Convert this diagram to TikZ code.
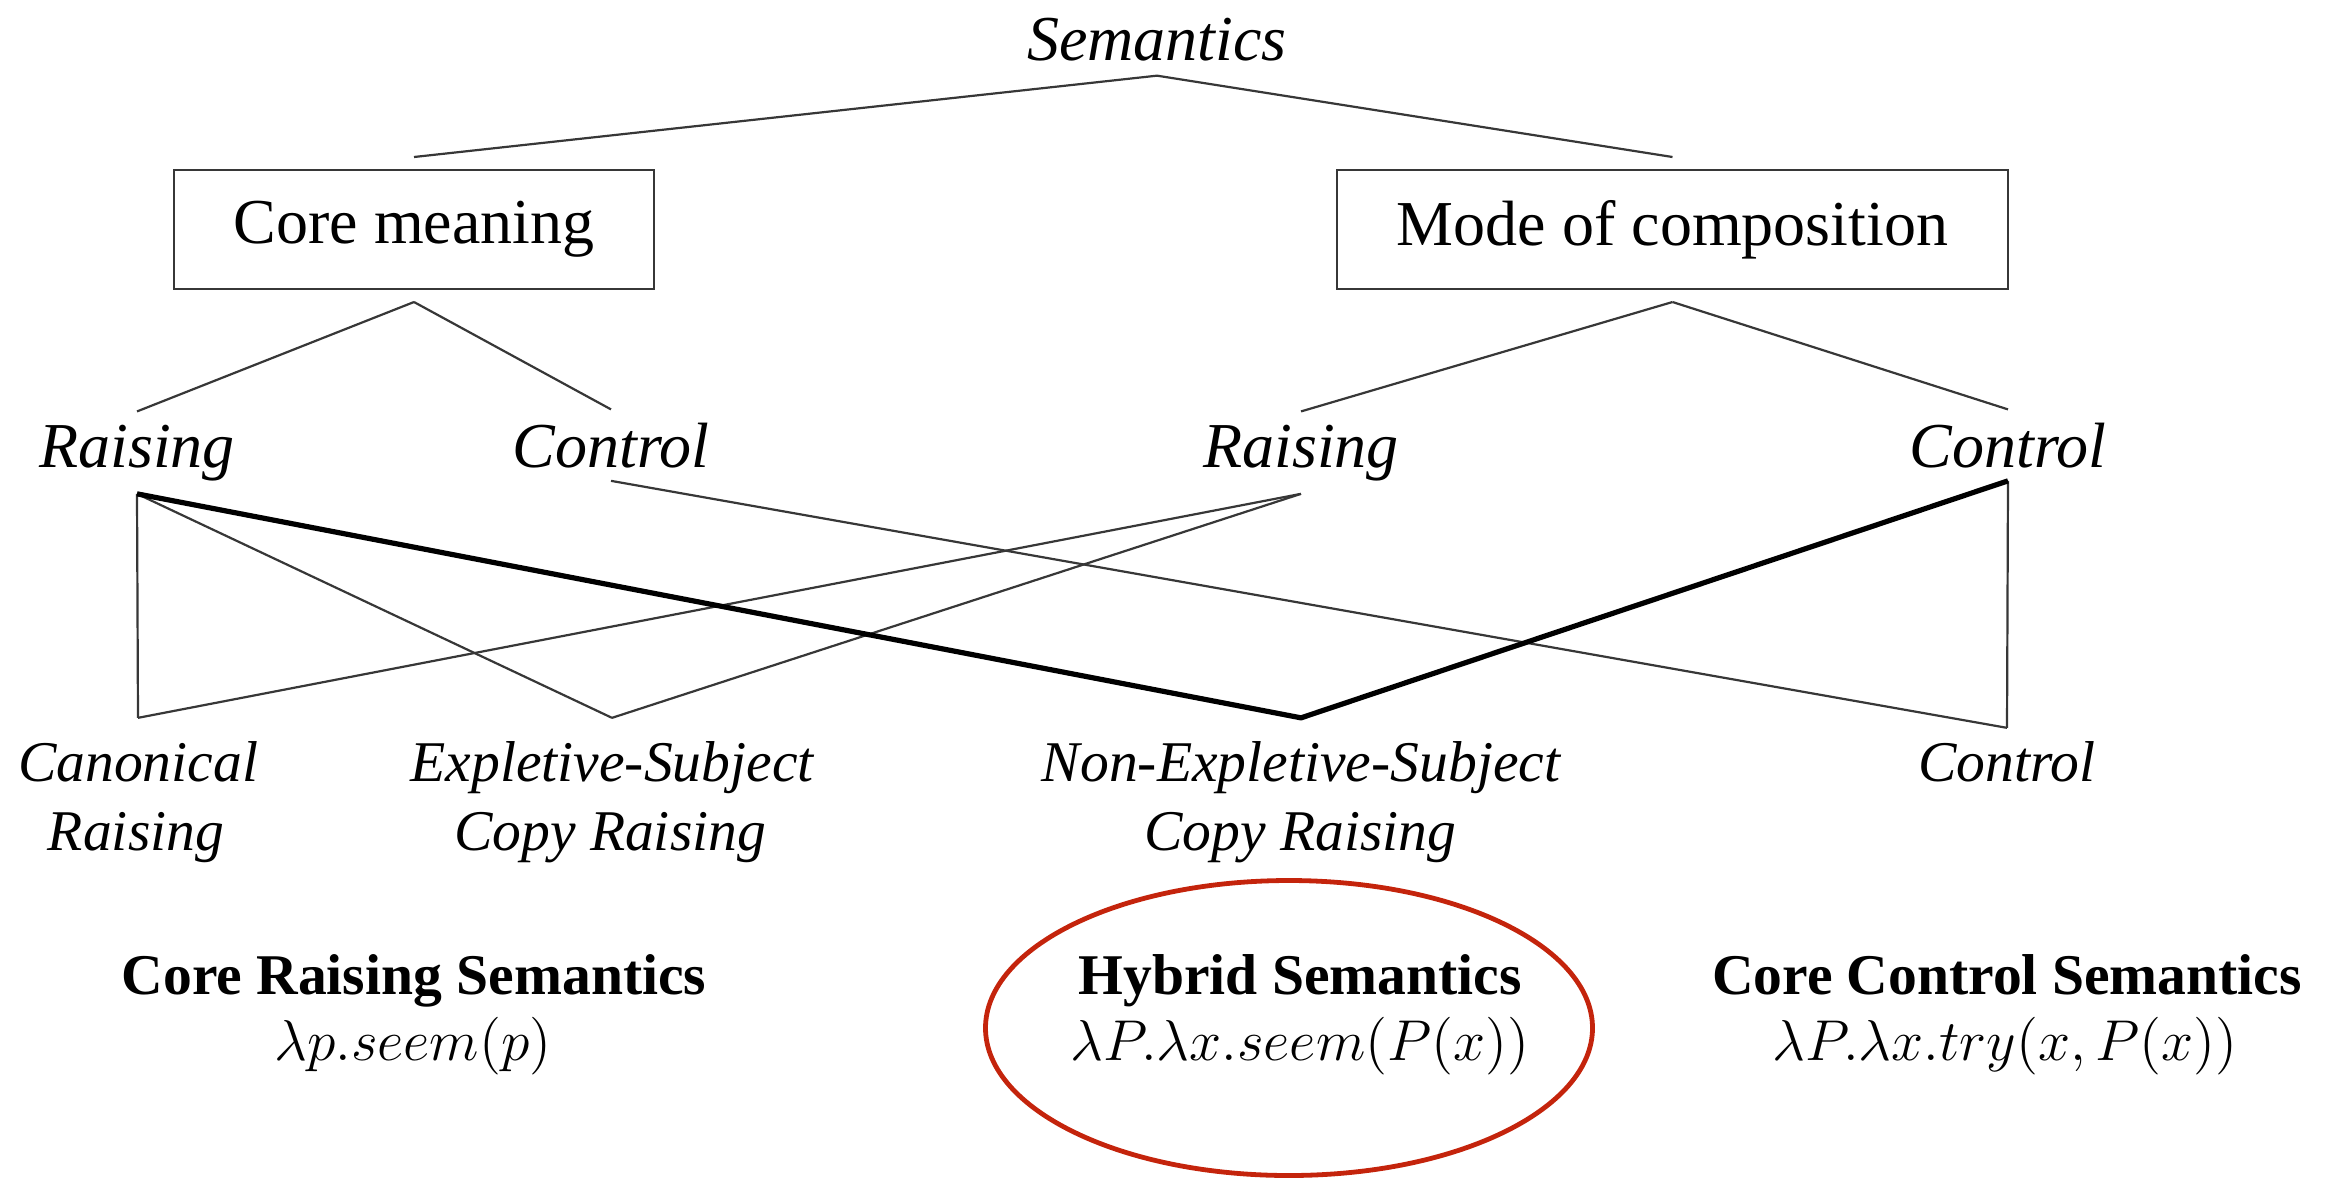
\documentclass[tikz,border=0pt]{standalone}
\usepackage[no-math]{fontspec}
\setmainfont{Liberation Serif}
\usetikzlibrary{shapes.geometric}
\definecolor{ringred}{RGB}{196,36,12}
\definecolor{edgegray}{RGB}{55,55,55}

\begin{document}
\begin{tikzpicture}[x=0.25pt,y=-0.25pt,
  bigfont/.style={font=\fontsize{16}{19}\selectfont, inner sep=0pt},
  boxnode/.style={font=\fontsize{16}{19}\selectfont, inner sep=0pt,
    draw=edgegray, line width=0.65pt, minimum height=29.75pt, outer sep=3.25pt},
  catnode/.style={font=\fontsize{16}{19}\selectfont\itshape, inner sep=0pt,
    anchor=base, outer sep=3.3pt},
  leafnode/.style={font=\fontsize{14.4}{17}\selectfont\itshape, inner sep=0pt,
    anchor=base, outer sep=5.8pt},
  headnode/.style={font=\fontsize{14.4}{17}\selectfont\bfseries, inner sep=0pt, anchor=base},
  formnode/.style={font=\fontsize{14.4}{17}\selectfont, inner sep=0pt, anchor=base},
  thinedge/.style={draw=edgegray, line width=0.55pt},
  thickedge/.style={draw=black, line width=1.3pt, line join=round},
  ring/.style={draw=ringred, line width=1.2pt, ellipse, inner sep=0pt}
]
\useasboundingbox (0,0) rectangle (2325,1180);

% root and the two dimensions
\node[font=\fontsize{16}{19}\selectfont\itshape, inner sep=0pt, anchor=base,
      outer sep=3.75pt] (sem) at (1157,60) {Semantics};
\node[boxnode, minimum width=120pt] (cm) at (414,229.5) {Core meaning};
\node[boxnode, minimum width=167.75pt] (mc) at (1672.5,229.5) {Mode of composition};

% raising / control under each dimension
\node[catnode] (rl) at (137,467) {Raising};
\node[catnode] (cl) at (611,467) {Control};
\node[catnode] (rr) at (1301,467) {Raising};
\node[catnode] (cr) at (2008,467) {Control};

% construction types
\node[leafnode] (can) at (138,781) {Canonical};
\node[leafnode] (can2) at (136,850) {Raising};
\node[leafnode] (exp) at (612,781) {Expletive-Subject};
\node[leafnode] (exp2) at (610,850) {Copy Raising};
\node[leafnode] (nex) at (1301,781) {Non-Expletive-Subject};
\node[leafnode] (nex2) at (1300,850) {Copy Raising};
\node[leafnode, outer sep=3.3pt] (ctl) at (2007,781) {Control};

% resulting semantics
\node[headnode] (crs) at (414,994) {Core Raising Semantics};
\node[formnode] (crsf) at (413,1060) {$\lambda p.seem(p)$};
\node[headnode] (hyb) at (1300,994) {Hybrid Semantics};
\node[formnode] (hybf) at (1300,1060) {$\lambda P.\lambda x.seem(P(x))$};
\node[headnode] (ccs) at (2007,994) {Core Control Semantics};
\node[formnode] (ccsf) at (2005,1060) {$\lambda P.\lambda x.try(x,P(x))$};

\node[ring, minimum width=151.75pt, minimum height=73.75pt] (hl) at (1289,1028) {};

% tree edges
\draw[thinedge] (sem.south) -- (cm.north);
\draw[thinedge] (sem.south) -- (mc.north);
\draw[thinedge] (cm.south) -- (rl.north);
\draw[thinedge] (cm.south) -- (cl.north);
\draw[thinedge] (mc.south) -- (rr.north);
\draw[thinedge] (mc.south) -- (cr.north);

% cross classification
\draw[thinedge] (rl.south) -- (can.north);
\draw[thinedge] (rl.south) -- (exp.north);
\draw[thinedge] (rr.south) -- (can.north);
\draw[thinedge] (rr.south) -- (exp.north);
\draw[thinedge] (cl.south) -- (ctl.north);
\draw[thinedge] (cr.south) -- (ctl.north);
\draw[thickedge] (rl.south) -- (nex.north) -- (cr.south);
\end{tikzpicture}
\end{document}
